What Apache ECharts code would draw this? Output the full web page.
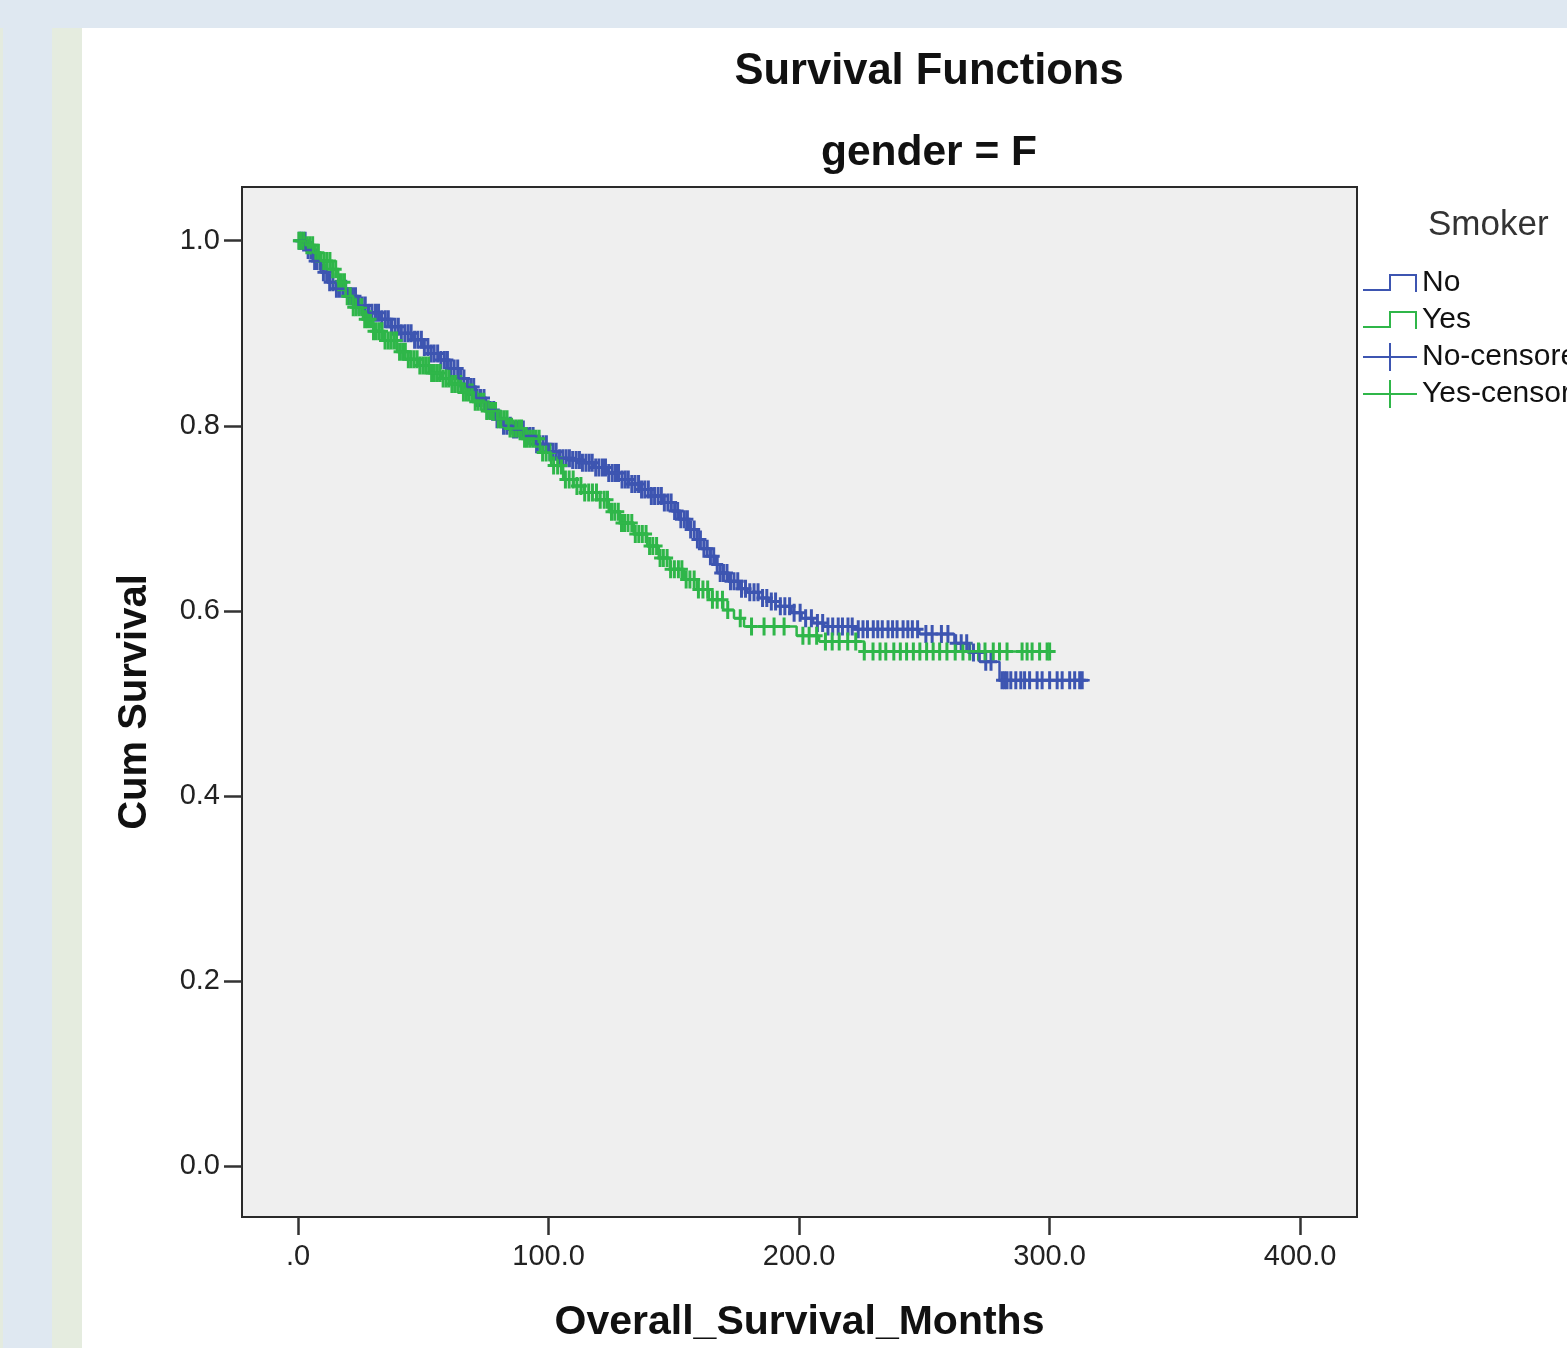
<!DOCTYPE html>
<html><head><meta charset="utf-8">
<script src="https://cdn.jsdelivr.net/npm/echarts@6/dist/echarts.min.js"></script>
<style>html,body{margin:0;padding:0;background:#fff;}#c{width:1567px;height:1348px;}</style>
</head><body><div id="c"></div>
<script>
// ---- Kaplan-Meier step curves (time in months, cumulative survival) ----
const noTimes = [0,3,6,9,12,15,19.6,24,28,32.7,37,41,45.9,50,53,56.7,60,64,67.5,71,75,79,82,85.8,90,95,100,104,108.6,113,118,123.4,128,132,136.5,141,145.7,149,152.5,156,159.3,162,164.5,166.5,168.5,172,176,179.2,184,188,192.4,197,201,205.6,210,222,248,262,268,272,280,316];
const noSurv = [1.000,0.990,0.978,0.966,0.955,0.948,0.940,0.930,0.922,0.915,0.907,0.900,0.893,0.885,0.878,0.871,0.862,0.851,0.842,0.830,0.817,0.807,0.800,0.796,0.789,0.780,0.772,0.765,0.763,0.760,0.755,0.749,0.742,0.737,0.731,0.724,0.717,0.708,0.699,0.688,0.677,0.667,0.659,0.650,0.641,0.632,0.624,0.620,0.614,0.610,0.605,0.598,0.592,0.587,0.583,0.580,0.575,0.565,0.555,0.545,0.525,0.525];
const yesTimes = [0,3,6,9,12.8,16,19,22,25.9,30,34,39.5,44,48,52.7,57,61,65.9,70,75,79.4,84,90,96.6,101,105.8,110,114,119.4,124,128.5,134,139.3,144,148.5,154,159.3,164,169.7,174,178,199,208,226,302];
const yesSurv = [1.000,0.995,0.987,0.978,0.969,0.955,0.940,0.928,0.915,0.902,0.892,0.880,0.872,0.865,0.857,0.851,0.845,0.836,0.826,0.816,0.807,0.797,0.786,0.771,0.757,0.742,0.735,0.728,0.720,0.707,0.695,0.683,0.670,0.657,0.645,0.634,0.623,0.612,0.601,0.592,0.583,0.573,0.567,0.556,0.556];

// ---- censored observation times ----
const noCensoredTimes = [0.5,1.5,2.8,4,5.2,6.6,7.5,8.8,10.1,11.4,12.6,13.9,15.3,16.5,17.8,19,20.4,21.7,22.9,24.3,25.6,26.8,28.2,29.5,30.9,32.1,33.4,34.8,36,37.3,38.7,40,41.2,42.6,43.9,45.1,46.5,47.8,49.2,50.4,51.8,53.1,54.3,55.7,57,58.4,59.6,61,62.3,63.7,64.9,66.2,67.6,68.9,70.1,71.5,72.8,74.2,75.5,76.7,78.1,79.4,80.8,82,83.3,84.7,86,87.2,88.6,89.9,91.3,92.5,93.8,95.2,96.4,97.8,99.1,100.5,101.8,103,104.4,105.7,107,108.3,109.6,111,112.3,113.5,114.9,116.2,117.4,118.8,120.1,121.5,122.7,124,125.4,126.7,127.9,129.3,130.6,131.8,133.2,134.5,135.9,137.1,138.4,139.8,141,142.3,143.7,145,146.2,147.6,148.9,150.3,151.5,152.8,154.2,155.4,156.7,158.1,159.4,160.6,162,163.3,164.6,165.9,167.3,168.5,169.8,171.2,172.6,174,175.5,177,178.6,180.3,182,183.6,185.4,187.1,188.9,190.6,192.5,194.3,196.2,198,200.4,202.6,204.9,207.3,209.4,211.5,213.4,215.6,217.3,219.5,221.2,223.6,225.5,227.3,229.6,231.4,233.2,235.5,237.3,239.1,241.5,243.4,245.2,247.3,250.6,253.1,256.8,259.4,262.5,264.7,266.9,269.6,271.8,274.5,276.6,281,282,283,284.5,286.5,288.5,290,292,295,297,300,303,305,308,310,312,313];
const yesCensoredTimes = [0.3,1.2,2.3,3.5,4.6,5.8,6.9,8.1,9.2,10.4,11.5,12.7,13.8,15,16.2,17.3,18.5,19.6,20.8,22,23.1,24.3,25.4,26.6,27.7,28.9,30.1,31.2,32.4,33.5,34.7,35.9,37,38.2,39.3,40.5,41.7,42.8,44,45.1,46.3,47.5,48.6,49.8,50.9,52.1,53.3,54.4,55.6,56.7,57.9,59.1,60.2,61.4,62.5,63.7,64.9,66,67.2,68.3,69.5,70.7,71.8,73,74.1,75.3,76.5,77.6,78.8,79.9,81.1,82.3,83.4,84.6,85.7,86.9,88.1,89.2,90.4,91.5,92.7,93.9,95,96.2,97.6,99,100.5,102,103.6,105.1,106.7,108.2,109.8,111.3,112.9,114.4,116,117.5,119.1,120.6,122.2,123.5,125.1,126.4,127.8,129.1,130.3,131.7,133.2,134.6,136,137.4,138.9,140.3,141.6,143.1,144.5,145.8,147.3,148.7,150.2,151.8,153.2,154.9,156.4,158.1,159.8,161.6,163.5,165.4,167.3,169.4,171.5,176.5,181,186,190,194,201.5,204,207,210.5,213.2,216,219.4,222.6,226,229.5,232.3,234.6,237.8,240.4,242.9,245.6,248.2,250.9,253.5,256.1,259,262.3,265.4,268.1,271.6,274.2,277.5,280,283,289,291,293,296,299,300];

// ---- axes ----
const xTickValues = [0,100,200,300,400];
const xTickLabels = ['.0','100.0','200.0','300.0','400.0'];
const yTickValues = [0,0.2,0.4,0.6,0.8,1.0];
const yTickLabels = ['0.0','0.2','0.4','0.6','0.8','1.0'];
const seriesNames = ['No','Yes','No-censored','Yes-censored'];
const titleText = 'Survival Functions';
const subTitleText = 'gender = F';
const legendTitle = 'Smoker';
const xAxisName = 'Overall_Survival_Months';
const yAxisName = 'Cum Survival';

const BLUE = '#3d55b1', GREEN = '#2fb649';
const FONT = '"Liberation Sans", Arial, sans-serif';

function survAt(times, surv, t) {
  let s = surv[0];
  for (let i = 0; i < times.length; i++) { if (times[i] <= t) s = surv[i]; else break; }
  return s;
}
function lbl(values, labels) {
  return v => { const i = values.findIndex(x => Math.abs(x - v) < 1e-9); return i >= 0 ? labels[i] : ''; };
}

const plusSym = 'path://M4.5,0L7.5,0L7.5,7.5L12,7.5L12,10.5L7.5,10.5L7.5,18L4.5,18L4.5,10.5L0,10.5L0,7.5L4.5,7.5Z';
const legendStep = 'path://M0,0L0.01,0L0,0.01ZM54,28L53.99,28L54,27.99ZM0,20L26,20L26,5L54,5L54,23L52,23L52,7L28,7L28,22L0,22Z';
const legendPlus = 'path://M0,13L26,13L26,0L28,0L28,13L54,13L54,15L28,15L28,28L26,28L26,15L0,15Z';

const chart = echarts.init(document.getElementById('c'), null, {renderer: 'canvas'});
chart.setOption({
  animation: false,
  backgroundColor: '#ffffff',
  graphic: [
    {type: 'rect', z: -10, silent: true, shape: {x: 0, y: 0, width: 1567, height: 28}, style: {fill: '#dfe8f1'}},
    {type: 'rect', z: -10, silent: true, shape: {x: 0, y: 28, width: 3, height: 1320}, style: {fill: '#e4ebdf'}},
    {type: 'rect', z: -10, silent: true, shape: {x: 3, y: 28, width: 49, height: 1320}, style: {fill: '#dfe8f1'}},
    {type: 'rect', z: -10, silent: true, shape: {x: 52, y: 28, width: 30, height: 1320}, style: {fill: '#e5ecdf'}}
  ],
  title: [
    {text: titleText, left: 929, top: 50, textAlign: 'center', padding: 0,
     textStyle: {fontFamily: FONT, fontSize: 43.5, fontWeight: 'bold', color: '#111'}},
    {text: subTitleText, left: 929, top: 132, textAlign: 'center', padding: 0,
     textStyle: {fontFamily: FONT, fontSize: 42.5, fontWeight: 'bold', color: '#111'}},
    {text: legendTitle, left: 1428, top: 208, padding: 0,
     textStyle: {fontFamily: FONT, fontSize: 35, fontWeight: 'normal', color: '#333'}}
  ],
  legend: {
    orient: 'vertical', left: 1363, top: 268, padding: 0,
    itemWidth: 54, itemHeight: 28, itemGap: 7, selectedMode: false,
    itemStyle: {borderWidth: 0},
    textStyle: {fontFamily: FONT, fontSize: 30, color: '#111', padding: [0, 0, 0, 0]},
    data: [
      {name: seriesNames[0], icon: legendStep},
      {name: seriesNames[1], icon: legendStep},
      {name: seriesNames[2], icon: legendPlus},
      {name: seriesNames[3], icon: legendPlus}
    ]
  },
  grid: {left: 242, top: 187, right: 210, bottom: 130, show: true,
         backgroundColor: '#efefef', borderColor: '#2a2a2a', borderWidth: 2},
  xAxis: {
    type: 'value', min: -22.4, max: 422.7,
    name: xAxisName, nameLocation: 'middle', nameGap: 85,
    nameTextStyle: {fontFamily: FONT, fontSize: 41, fontWeight: 'bold', color: '#111'},
    axisLine: {show: false, onZero: false},
    splitLine: {show: false},
    axisTick: {show: true, length: 18, customValues: xTickValues, lineStyle: {color: '#333', width: 2.5}},
    axisLabel: {customValues: xTickValues, formatter: lbl(xTickValues, xTickLabels), margin: 25,
                fontFamily: FONT, fontSize: 29, color: '#222'}
  },
  yAxis: {
    type: 'value', min: -0.055, max: 1.058,
    name: yAxisName, nameLocation: 'middle', nameGap: 87,
    nameTextStyle: {fontFamily: FONT, fontSize: 40, fontWeight: 'bold', color: '#111'},
    axisLine: {show: false, onZero: false},
    splitLine: {show: false},
    axisTick: {show: true, length: 18, customValues: yTickValues, lineStyle: {color: '#333', width: 2.5}},
    axisLabel: {customValues: yTickValues, formatter: lbl(yTickValues, yTickLabels), margin: 22,
                fontFamily: FONT, fontSize: 29, color: '#222'}
  },
  series: [
    {name: seriesNames[0], type: 'line', step: 'end', symbol: 'none', showSymbol: false,
     itemStyle: {color: BLUE}, lineStyle: {color: BLUE, width: 2.5},
     data: noTimes.map((t, i) => [t, noSurv[i]])},
    {name: seriesNames[1], type: 'line', step: 'end', symbol: 'none', showSymbol: false,
     itemStyle: {color: GREEN}, lineStyle: {color: GREEN, width: 2.5},
     data: yesTimes.map((t, i) => [t, yesSurv[i]])},
    {name: seriesNames[2], type: 'scatter', symbol: plusSym, symbolSize: [12, 18],
     itemStyle: {color: BLUE, opacity: 1},
     data: noCensoredTimes.map(t => [t, survAt(noTimes, noSurv, t)])},
    {name: seriesNames[3], type: 'scatter', symbol: plusSym, symbolSize: [12, 18],
     itemStyle: {color: GREEN, opacity: 1},
     data: yesCensoredTimes.map(t => [t, survAt(yesTimes, yesSurv, t)])}
  ]
});
</script></body></html>
